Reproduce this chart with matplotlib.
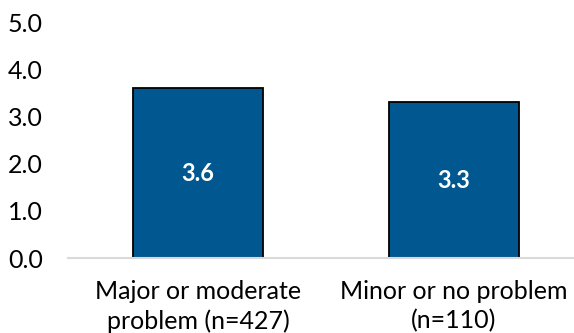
import matplotlib
matplotlib.use("Agg")
import matplotlib.pyplot as plt

categories = ["Major or moderate\nproblem (n=427)", "Minor or no problem\n(n=110)"]
values = [3.6, 3.3]
yticks = [0.0, 1.0, 2.0, 3.0, 4.0, 5.0]

plt.rcParams["font.family"] = ["Lato", "DejaVu Sans"]

fig = plt.figure(figsize=(5.74, 3.33), dpi=100)
ax = fig.add_axes([68 / 574, 1 - 258 / 333, (584 - 68) / 574, (258 - 22) / 333])

x = list(range(len(categories)))
bars = ax.bar(x, values, width=0.508, color="#01578F", edgecolor="black", linewidth=1.3, zorder=3)
for b, v in zip(bars, values):
    ax.text(b.get_x() + b.get_width() / 2, v / 2, f"{v:.1f}", ha="center", va="center",
            color="white", fontsize=17, fontweight="bold", zorder=4)

ax.set_xlim(-0.508, 1.508)
ax.set_ylim(0, 5)
ax.set_yticks(yticks)
ax.set_yticklabels([f"{t:.1f}" for t in yticks], fontsize=18)
ax.set_xticks(x)
ax.set_xticklabels(categories, fontsize=18, linespacing=1.3)
ax.tick_params(axis="both", length=0)
ax.tick_params(axis="x", pad=16)
ax.tick_params(axis="y", pad=18)
for s in ["top", "right", "left"]:
    ax.spines[s].set_visible(False)
ax.spines["bottom"].set_color("#D9D9D9")
ax.spines["bottom"].set_linewidth(1.5)
ax.spines["bottom"].set_zorder(5)

fig.savefig("out.png", dpi=100)
